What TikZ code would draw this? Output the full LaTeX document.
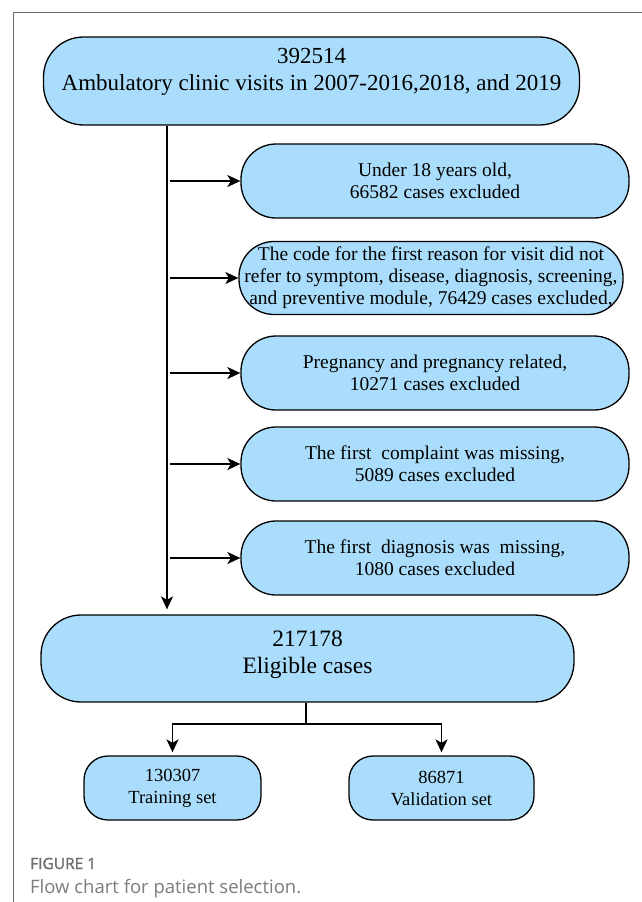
\documentclass[tikz,border=0pt]{standalone}
\usepackage{fontspec}
\setmainfont{Liberation Serif}
\newfontfamily\capfont{Open Sans}
\usetikzlibrary{arrows.meta}
\definecolor{boxblue}{RGB}{170,221,251}
\definecolor{capgray}{RGB}{110,110,110}
\tikzstyle{stage}=[draw, fill=boxblue, line width=1.3pt, align=center, inner sep=0pt]
\tikzstyle{excl}=[stage, minimum width=388pt, minimum height=74pt, rounded corners=35pt, font=\fontsize{19.5}{22}\selectfont]
\tikzstyle{subset}=[stage, minimum height=64pt, rounded corners=24pt, font=\fontsize{18.5}{22}\selectfont]
\tikzstyle{flow}=[line width=1.5pt, -{Stealth[length=13pt,width=12pt,inset=3.5pt]}]

\begin{document}
\begin{tikzpicture}[x=1pt,y=-1pt]
\useasboundingbox (0,0) rectangle (642,902);
%\draw[help lines,step=50] (0,0) grid (642,902);
\draw [capgray, line width=0.8pt] (13.5,902) -- (13.5,12) -- (642,12);
\node [stage, minimum width=536pt, minimum height=88pt, rounded corners=40pt] (visits) at (311.5,81) {};
\node [font=\fontsize{23}{27}\selectfont, align=center] (visitstxt) at (311.5,72) {392514\\Ambulatory clinic visits in 2007-2016,2018, and 2019};
\coordinate (trunk) at (167,0);
\foreach \y/\n/\t in {181/ageout/{Under 18 years old,\\66582 cases excluded},
  373/pregout/{Pregnancy and pregnancy related,\\10271 cases excluded},
  464/compout/{The first\ \ complaint was missing,\\5089 cases excluded},
  558/diagout/{The first\ \ diagnosis was\ \ missing,\\1080 cases excluded}}
{
\node [excl] (\n) at (435,\y) {\t};
\coordinate (s\n) at (170,\y);
\draw [flow] (s\n) -- (\n.west);
}
\node [excl, minimum width=384pt, minimum height=73pt] (codeout) at (431,278) {The code for the first reason for visit did not\\refer to symptom, disease, diagnosis, screening,\\and preventive module, 76429 cases excluded,};
\coordinate (scodeout) at (170,278);
\draw [flow] (scodeout) -- (codeout.west);
\node [stage, minimum width=533pt, minimum height=87pt, rounded corners=40pt] (eligible) at (307.5,658.5) {};
\node [font=\fontsize{23.5}{27}\selectfont, align=center] (eligibletxt) at (307.5,654.5) {217178\\Eligible cases};
\draw [flow, shorten >=5pt] (visits.south -| trunk) -- (eligible.north -| trunk);
\node [subset, minimum width=177pt] (train) at (172.5,788) {130307\\Training set};
\node [subset, minimum width=185pt] (valid) at (441.5,788) {86871\\Validation set};
\draw [line width=1.5pt] (eligible.south -| 306,0) -- (306,724) coordinate (fork);
\draw [flow, shorten >=3pt] (fork) -| (train.north);
\draw [flow, shorten >=3pt] (fork) -| (valid.north);
\node [anchor=base west, inner sep=0pt, font=\capfont\fontsize{15.5}{18}\selectfont\addfontfeature{FakeBold=1.5}, text=capgray] (fignum) at (30,869) {FIGURE 1};
\node [anchor=base west, inner sep=0pt, font=\capfont\fontsize{18.5}{22}\selectfont, text=capgray!90!white] (figcap) at (30,893) {Flow chart for patient selection.};
\end{tikzpicture}
\end{document}
